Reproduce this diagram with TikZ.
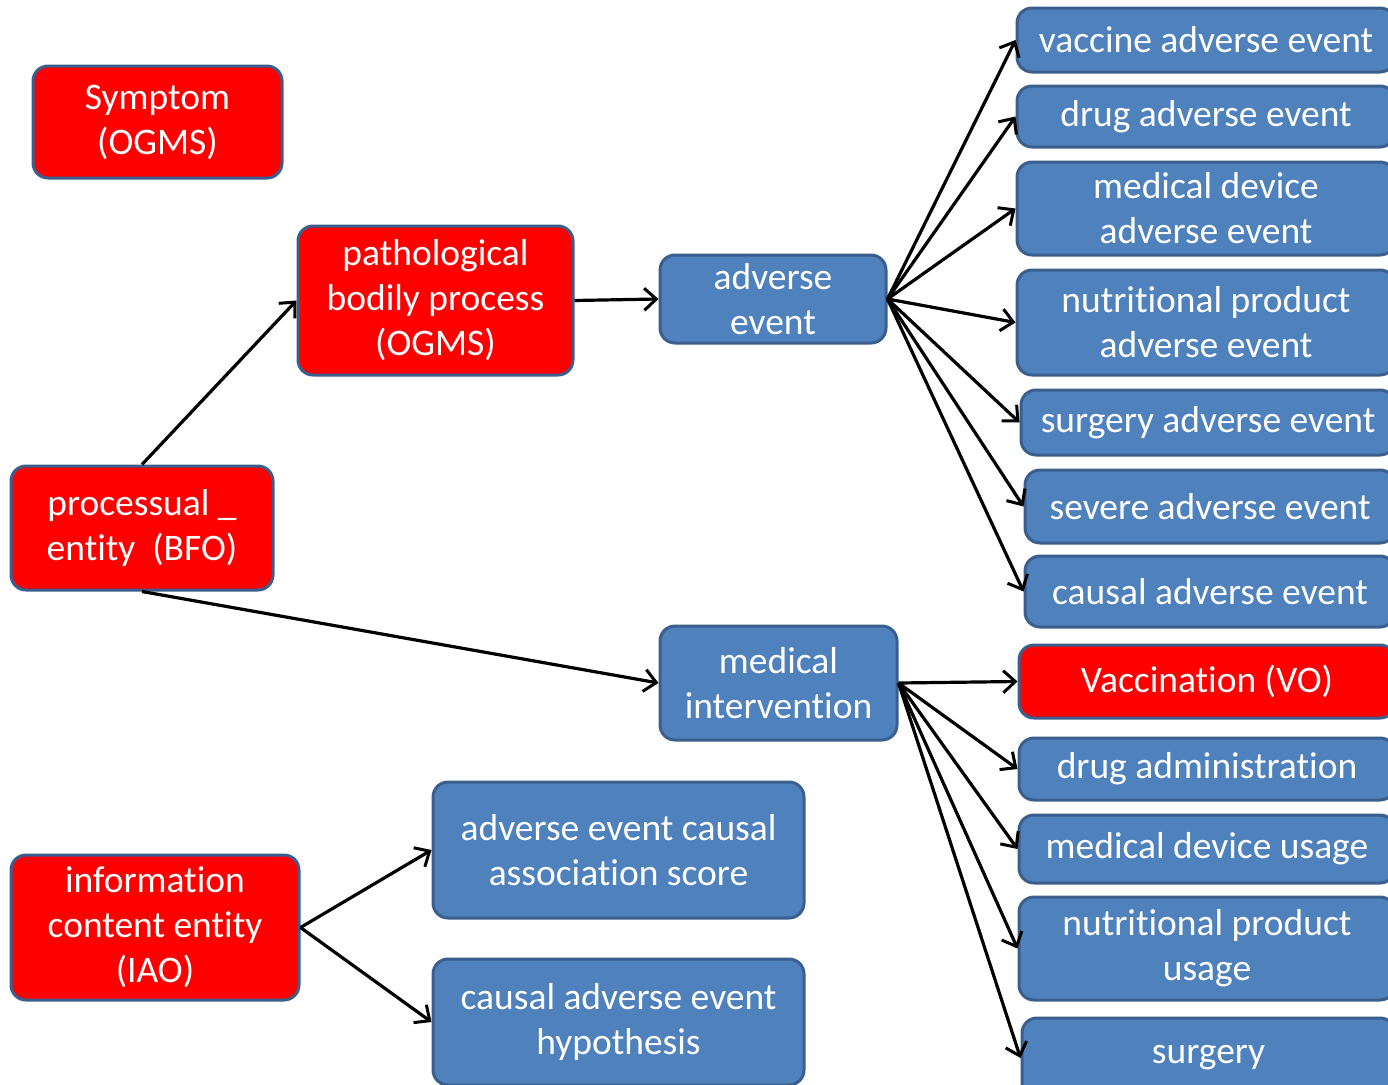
\documentclass[tikz,border=0pt]{standalone}
\usepackage{fontspec}
\setmainfont[Ligatures={NoCommon}]{Carlito}
\usetikzlibrary{arrows.meta}
\definecolor{boxblue}{HTML}{4F81BD}
\definecolor{boxred}{HTML}{FF0000}
\definecolor{rim}{HTML}{3A5F8E}
\begin{document}
\begin{tikzpicture}[x=1pt,y=-1pt,
  box/.style={draw=rim, line width=3pt, rounded corners=15pt, text=white,
    align=center, inner sep=0pt, font=\fontsize{37.5}{45}\selectfont},
  bluebox/.style={box, fill=boxblue},
  redbox/.style={box, fill=boxred},
  arr/.style={draw=black, line width=3.2pt,
    -{Straight Barb[length=12pt,width=22pt,line width=3pt]}}]
\useasboundingbox (0,0) rectangle (1388,1084);
\clip (0,0) rectangle (1388,1084);

% left column
\node[redbox, minimum width=249pt, minimum height=112pt] (symp) at (157.5,122) {Symptom\\(OGMS)};
\node[redbox, minimum width=262pt, minimum height=124pt] (proc) at (142,528) {processual \_\\entity~~(BFO)};
\node[redbox, minimum width=288pt, minimum height=145pt] (ice) at (155,927.5) {information\\content entity\\(IAO)};

% middle
\node[redbox, minimum width=275pt, minimum height=149pt] (path) at (435.5,300.5) {pathological\\bodily process\\(OGMS)};
\node[bluebox, minimum width=226pt, minimum height=88pt] (ae) at (773,299) {adverse\\event};
\node[bluebox, minimum width=237pt, minimum height=114pt] (mi) at (778.5,683) {medical\\intervention};
\node[bluebox, minimum width=371pt, minimum height=136pt] (score) at (618.5,850) {adverse event causal\\association score};
\node[bluebox, minimum width=371pt, minimum height=126pt] (hyp) at (618.5,1022) {causal adverse event\\hypothesis};

% right column: kinds of adverse event
\node[bluebox, minimum width=378pt, minimum height=64pt] (vae) at (1206,40) {vaccine adverse event};
\node[bluebox, minimum width=378pt, minimum height=61pt] (dae) at (1206,116.5) {drug adverse event};
\node[bluebox, minimum width=378pt, minimum height=93pt] (mdae) at (1206,208.5) {medical device\\adverse event};
\node[bluebox, minimum width=378pt, minimum height=105pt] (npae) at (1206,322.5) {nutritional product\\adverse event};
\node[bluebox, minimum width=374pt, minimum height=65pt] (sae) at (1208,422.5) {surgery adverse event};
\node[bluebox, minimum width=370pt, minimum height=73pt] (sev) at (1210,506.5) {severe adverse event};
\node[bluebox, minimum width=370pt, minimum height=71pt] (cae) at (1210,591.5) {causal adverse event};

% right column: kinds of medical intervention
\node[redbox, minimum width=376pt, minimum height=73pt] (vacc) at (1207,681.5) {Vaccination (VO)};
\node[bluebox, minimum width=376pt, minimum height=62pt] (drug) at (1207,769) {drug administration};
\node[bluebox, minimum width=376pt, minimum height=68pt] (mdu) at (1207,849) {medical device usage};
\node[bluebox, minimum width=376pt, minimum height=103pt] (npu) at (1207,948.5) {nutritional product\\usage};
\node[bluebox, minimum width=373pt, minimum height=80pt] (surg) at (1208.5,1058) {surgery};

% connectors
\draw[arr] (proc.north) -- (path.west);
\draw[arr] (path.east) -- (ae.west);
\draw[arr] (proc.south) -- (mi.west);
\foreach \t in {vae,dae,mdae,npae,sae,sev,cae}
  \draw[arr] (ae.east) -- (\t.west);
\foreach \t in {vacc,drug,mdu,npu,surg}
  \draw[arr] (mi.east) -- (\t.west);
\draw[arr] (ice.east) -- (score.west);
\draw[arr] (ice.east) -- (hyp.west);
\end{tikzpicture}
\end{document}
